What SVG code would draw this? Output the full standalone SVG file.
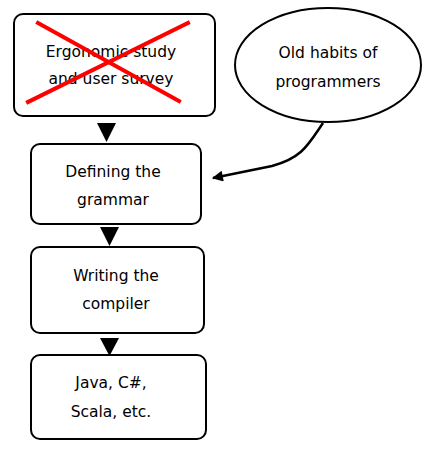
<svg xmlns="http://www.w3.org/2000/svg" width="434" height="455" viewBox="0 0 434 455">
<style>
.box{fill:#fff;stroke:#000;stroke-width:2}
.t{font-family:"DejaVu Sans","Liberation Sans",sans-serif;font-size:15.5px;fill:#000;text-anchor:middle}
.tri{fill:#000}
.cross{stroke:#ff0000;stroke-width:4;stroke-linecap:square}
</style>
<defs>
<marker id="ah" viewBox="0 0 10 10" refX="9" refY="5" markerWidth="14" markerHeight="11" orient="auto" markerUnits="userSpaceOnUse">
<path d="M0,0 L10,5 L0,10 z" fill="#000"/>
</marker>
</defs>
<rect width="434" height="455" fill="#fff"/>
<g id="n-ergonomic">
<rect class="box" x="14" y="14" width="201" height="102" rx="9"/>
<text class="t" x="111" y="57">Ergonomic study</text>
<text class="t" x="111" y="84">and user survey</text>
<line class="cross" x1="38" y1="23" x2="179" y2="101"/>
<line class="cross" x1="188" y1="23" x2="28" y2="102"/>
</g>
<g id="n-grammar">
<rect class="box" x="31" y="144" width="170" height="80" rx="9"/>
<text class="t" x="113" y="177">Defining the</text>
<text class="t" x="113" y="205">grammar</text>
</g>
<g id="n-compiler">
<rect class="box" x="31" y="247" width="173" height="86" rx="9"/>
<text class="t" x="116" y="281">Writing the</text>
<text class="t" x="116" y="309">compiler</text>
</g>
<g id="n-langs">
<rect class="box" x="31" y="355" width="175" height="84" rx="9"/>
<text class="t" x="111" y="388">Java, C#,</text>
<text class="t" x="111" y="417">Scala, etc.</text>
</g>
<g id="n-habits">
<ellipse class="box" cx="328" cy="65" rx="93" ry="57"/>
<text class="t" x="328" y="58">Old habits of</text>
<text class="t" x="328" y="87">programmers</text>
</g>
<g id="connectors">
<polygon class="tri" points="97,123 116,123 106.5,142"/>
<polygon class="tri" points="100,227 119,227 109.5,246"/>
<polygon class="tri" points="100,338 119,338 109.5,356"/>
<path d="M323,123 C308,145 302,158 272,166 L213,178" fill="none" stroke="#000" stroke-width="2.5" marker-end="url(#ah)"/>
</g>
</svg>
